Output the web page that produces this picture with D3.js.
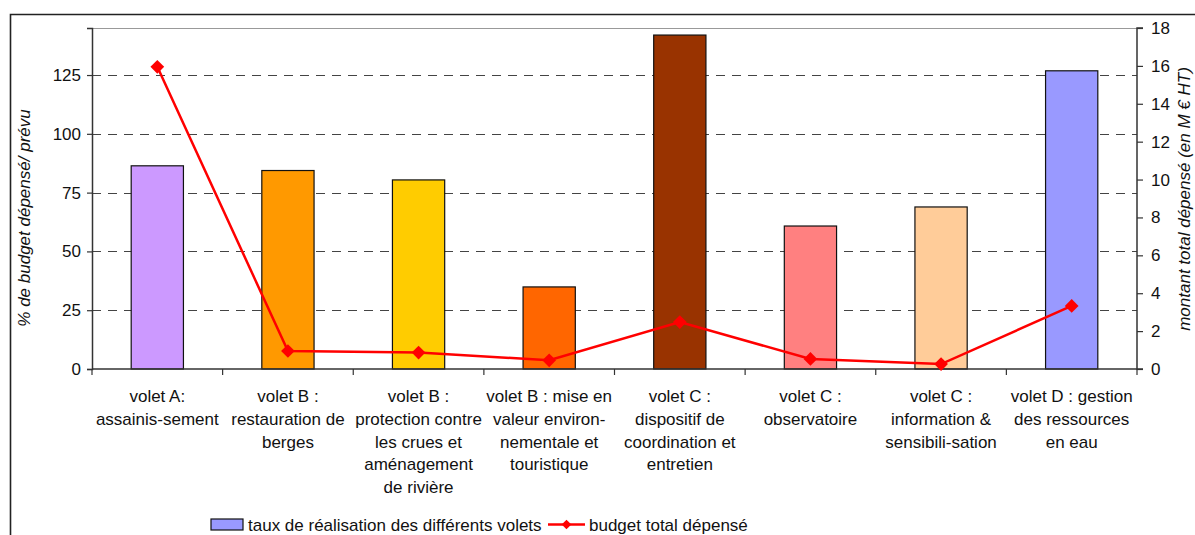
<!DOCTYPE html>
<html>
<head>
<meta charset="utf-8">
<script src="https://cdn.jsdelivr.net/npm/d3@7"></script>
<style>
  html, body { margin: 0; padding: 0; background: #fff; }
  svg { display: block; font-family: "Liberation Sans", Arial, sans-serif; }
</style>
</head>
<body>
<div id="chart"></div>
<script>
// ── Data ────────────────────────────────────────────────────────────────────
const categories = [
  ["volet A:", "assainis-sement"],
  ["volet B :", "restauration de", "berges"],
  ["volet B :", "protection contre", "les crues et", "aménagement", "de rivière"],
  ["volet B : mise en", "valeur environ-", "nementale et", "touristique"],
  ["volet C :", "dispositif de", "coordination et", "entretien"],
  ["volet C :", "observatoire"],
  ["volet C :", "information &", "sensibili-sation"],
  ["volet D : gestion", "des ressources", "en eau"]
];
// % de budget dépensé / prévu (left axis)
const tauxRealisation = [86.4, 84.4, 80.4, 34.9, 142, 60.8, 68.9, 126.8];
// montant total dépensé, M€ HT (right axis)
const budgetDepense = [15.95, 0.95, 0.87, 0.46, 2.48, 0.53, 0.26, 3.33];
const leftTicks  = [0, 25, 50, 75, 100, 125];
const rightTicks = [0, 2, 4, 6, 8, 10, 12, 14, 16, 18];
const barColors = ["#CC99FF", "#FF9900", "#FFCC00", "#FF6600", "#993300", "#FF8080", "#FFCC99", "#9999FF"];

// ── Layout ──────────────────────────────────────────────────────────────────
const W = 1195, H = 535;
const PLOT = { l: 92, r: 1137, t: 28, b: 369 };
const FS = 17;

const svg = d3.select('#chart').append('svg')
  .attr('width', W).attr('height', H);

const x = d3.scaleBand().domain(d3.range(categories.length))
  .range([PLOT.l, PLOT.r]).paddingInner(0.6).paddingOuter(0.3);
const yL = d3.scaleLinear().domain([0, 145]).range([PLOT.b, PLOT.t]);
const yR = d3.scaleLinear().domain([0, 18]).range([PLOT.b, PLOT.t]);

// outer frame (runs off the window on right and bottom)
svg.append('path')
  .attr('d', `M10.5,${H + 5} V14.5 H${W + 5}`)
  .attr('fill', 'none').attr('stroke', '#222').attr('stroke-width', 1.6);

// plot area top border
svg.append('line')
  .attr('x1', PLOT.l).attr('x2', PLOT.r).attr('y1', PLOT.t + 0.5).attr('y2', PLOT.t + 0.5)
  .attr('stroke', '#999').attr('stroke-width', 1.2);

// gridlines
svg.append('g').selectAll('line')
  .data(leftTicks.filter(d => d > 0))
  .join('line')
  .attr('x1', PLOT.l).attr('x2', PLOT.r)
  .attr('y1', d => Math.round(yL(d)) + 0.5).attr('y2', d => Math.round(yL(d)) + 0.5)
  .attr('stroke', '#444').attr('stroke-width', 1).attr('stroke-dasharray', '9,7');

// bars
svg.append('g').selectAll('rect')
  .data(tauxRealisation)
  .join('rect')
  .attr('x', (d, i) => x(i)).attr('width', x.bandwidth())
  .attr('y', d => yL(d)).attr('height', d => PLOT.b - yL(d))
  .attr('fill', (d, i) => barColors[i])
  .attr('stroke', '#111').attr('stroke-width', 1.2);

// left + right axes
const axL = svg.append('g').attr('transform', `translate(${PLOT.l},0)`)
  .call(d3.axisLeft(yL).tickValues(leftTicks).tickSize(5).tickPadding(6));
const axR = svg.append('g').attr('transform', `translate(${PLOT.r},0)`)
  .call(d3.axisRight(yR).tickValues(rightTicks).tickSize(6).tickPadding(8));

// bottom axis: ticks at category boundaries
const step = x.step();
const bounds = d3.range(categories.length + 1).map(i => PLOT.l + i * step);
svg.append('line')
  .attr('x1', PLOT.l).attr('x2', PLOT.r).attr('y1', PLOT.b).attr('y2', PLOT.b)
  .attr('stroke', '#333').attr('stroke-width', 1.5);
svg.append('g').selectAll('line')
  .data(bounds)
  .join('line')
  .attr('x1', d => d).attr('x2', d => d).attr('y1', PLOT.b).attr('y2', PLOT.b + 6)
  .attr('stroke', '#333').attr('stroke-width', 1.2);

[axL, axR].forEach(ax => {
  ax.select('.domain').attr('stroke', '#333').attr('stroke-width', 1.5);
  ax.selectAll('.tick line').attr('stroke', '#333').attr('stroke-width', 1.2);
  ax.selectAll('.tick text').attr('font-size', FS).attr('fill', '#111')
    .attr('font-family', '"Liberation Sans", Arial, sans-serif');
});
axR.select('.domain').attr('d', `M6,${PLOT.t}H0V${PLOT.b}H6`);

// category labels
categories.forEach((lines, i) => {
  const cx = x(i) + x.bandwidth() / 2;
  const t = svg.append('text')
    .attr('text-anchor', 'middle').attr('font-size', FS).attr('fill', '#111');
  lines.forEach((ln, j) => {
    t.append('tspan').attr('x', cx).attr('y', 402 + j * 22.8).text(ln);
  });
});

// line series
const cxOf = i => x(i) + x.bandwidth() / 2;
svg.append('path')
  .datum(budgetDepense)
  .attr('fill', 'none').attr('stroke', '#FF0000').attr('stroke-width', 2.5)
  .attr('d', d3.line().x((d, i) => cxOf(i)).y(d => yR(d)));
const diamond = d3.symbol().type(d3.symbolDiamond2).size(120);
svg.append('g').selectAll('path')
  .data(budgetDepense)
  .join('path')
  .attr('transform', (d, i) => `translate(${cxOf(i)},${yR(d)})`)
  .attr('d', diamond)
  .attr('fill', '#FF0000');

// axis titles
svg.append('text')
  .attr('transform', 'translate(30,218) rotate(-90)')
  .attr('text-anchor', 'middle').attr('font-size', 17).attr('font-style', 'italic')
  .attr('fill', '#111')
  .text('% de budget dépensé/ prévu');
svg.append('text')
  .attr('transform', 'translate(1190,199) rotate(-90)')
  .attr('text-anchor', 'middle').attr('font-size', 17).attr('font-style', 'italic')
  .attr('fill', '#111')
  .text('montant total dépensé (en M € HT)');

// legend
const legY = 524.5;
svg.append('rect')
  .attr('x', 211).attr('y', legY - 5.5).attr('width', 32).attr('height', 11)
  .attr('fill', '#9999FF').attr('stroke', '#111').attr('stroke-width', 1.2);
svg.append('text')
  .attr('x', 248).attr('y', legY + 6).attr('font-size', FS).attr('fill', '#111')
  .text('taux de réalisation des différents volets');
svg.append('line')
  .attr('x1', 548).attr('x2', 585).attr('y1', legY).attr('y2', legY)
  .attr('stroke', '#FF0000').attr('stroke-width', 2.5);
svg.append('path')
  .attr('transform', `translate(566.5,${legY})`)
  .attr('d', d3.symbol().type(d3.symbolDiamond2).size(60))
  .attr('fill', '#FF0000');
svg.append('text')
  .attr('x', 589).attr('y', legY + 6).attr('font-size', FS).attr('fill', '#111')
  .text('budget total dépensé');
</script>
</body>
</html>
